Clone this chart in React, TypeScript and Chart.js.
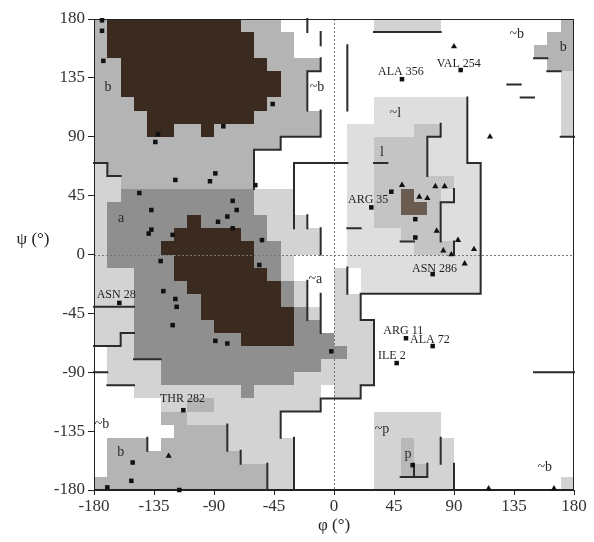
import React, { useEffect, useRef } from 'react';
import { Chart, registerables } from 'chart.js';

Chart.register(...registerables);

// Axis ticks (degrees)
const PHI_TICKS = [-180, -135, -90, -45, 0, 45, 90, 135, 180];
const PSI_TICKS = [-180, -135, -90, -45, 0, 45, 90, 135, 180];

// Region map: 36 rows (psi 180 -> -180, 10 deg each) x 36 columns (phi -180 -> 180)
// D core, A alpha allowed, B beta allowed, G generous, g/a/d left-handed region, p polyPro inner, . disallowed
const REGION_ROWS = [
  'BDDDDDDDDDDBBB.......GGGGG.........B',
  'BDDDDDDDDDDDBBB...................BB',
  'BDDDDDDDDDDDBBB..................BBB',
  'BBDDDDDDDDDDDBBBB.................BB',
  'BBDDDDDDDDDDDDBB...................G',
  'BBDDDDDDDDDDDDBB...................G',
  'BBBDDDDDDDDDDBBB.....ggggggg.......G',
  'BBBBDDDDDDDDBBBBB....ggggggg.......G',
  'BBBBDDBBDBBBBBBBB..gggggaagg.......G',
  'BBBBBBBBBBBBBB.....ggaaaaggg........',
  'BBBBBBBBBBBB.......ggaaaaggg........',
  'GBBBBBBBBBBB.......ggaaaagggg.......',
  'GGBBBBBBBBBB.......ggaaaaaagg.......',
  'GGAAAAAAAAAAGGG....ggaadaaggg.......',
  'GAAAAAAAAAAAGGG....ggaaddaggg.......',
  'GAAAAAADAAAAAGGG...ggaaaaaggg.......',
  'GAAAAADDDDDAAGGGG..ggggaaaggg.......',
  'GAAAADDDDDDDAAGGG..gggggaaagg.......',
  'GAAAAADDDDDDAAG....gggggggggg.......',
  'GGGAAADDDDDDDAG...G.ggggggggg.......',
  'GGGAAAADDDDDDDAG..G.ggggggggg.......',
  'GGGAAAAADDDDDDAG..GG................',
  'GGGAAAAADDDDDDDAG.GG................',
  'GGGAAAAAADDDDDDAA.GGG...............',
  'GGGAAAAAAAADDDDAAAGGG...............',
  '.GGAAAAAAAAAAAAAAAAGG...............',
  '.GGGGAAAAAAAAAAAAGGGG...............',
  '.GGGGAAAAAAAAAAGGGGGG...............',
  '...GGGGGGGGAGGGGG.GG................',
  '.....GGBBGGGGGGGG...................',
  '.....BBGGGGGGG.......GGGGG..........',
  '......BBBBGGGG.......GGGGG..........',
  '.BBB.BBBBBGGGGG......GGpGGG.........',
  '.BBBBBBBBBBGGGG......GGpGGG.........',
  '.BBBBBBBBBBBBGG......GGppGG.........',
  'BBBBBBBBBBBBBGG......GGGGGG........G',
];

const REGION_COLORS: Record<string, string> = {
  D: '#3a2a20',
  A: '#8f8f8f',
  B: '#b4b4b4',
  G: '#d3d3d3',
  g: '#dedede',
  a: '#c4c4c4',
  d: '#6b5c52',
  p: '#b8b8b8',
};

// Boundary segments [phi1, psi1, phi2, psi2]
const BOUNDARY_SEGMENTS: number[][] = [
  [-20, 180, -20, 170], [-10, 170, -10, 160],
  [-10, 150, -10, 140], [-20, 140, -10, 140], [-20, 140, -20, 110],
  [-10, 110, -10, 90], [-40, 90, -10, 90], [-40, 90, -40, 80], [-60, 80, -40, 80], [-60, 80, -60, 50],
  [-30, 70, 0, 70], [-30, 70, -30, 20],
  [-180, 70, -170, 70], [-170, 70, -170, 60], [-170, 60, -160, 60],
  [-20, 30, -20, 20], [-10, 20, -10, 0], [-20, -20, -20, -50], [-10, -30, -10, -60],
  [-180, -40, -150, -40], [-160, -60, -150, -60], [-180, -70, -160, -70], [-160, -60, -160, -70],
  [-150, -80, -130, -80], [-170, -100, -150, -100], [-180, -90, -170, -90],
  [-140, -140, -140, -150], [-80, -130, -80, -150], [-70, -150, -70, -160], [-50, -160, -50, -180],
  [-40, -120, -40, -140], [-40, -120, -10, -120], [-10, -110, -10, -120], [-10, -110, 0, -110],
  [-30, -140, -30, -180],
  [20, -30, 110, -30], [110, 70, 110, -30], [100, 120, 100, 70], [100, 70, 110, 70],
  [20, -30, 20, -50], [20, -50, 30, -50], [30, -50, 30, -100], [20, -100, 30, -100],
  [20, -100, 20, -110], [0, -110, 20, -110], [10, -10, 10, -30],
  [80, -140, 80, -160], [90, -160, 90, -180], [60, -160, 60, -170], [50, -170, 70, -170], [70, -160, 70, -170],
  [150, -90, 180, -90],
  [130, 130, 140, 130], [140, 120, 150, 120], [150, 150, 160, 150], [160, 140, 170, 140], [170, 90, 180, 90],
  [10, 160, 10, 110], [0, 70, 10, 70], [30, 170, 80, 170],
  [80, 100, 80, 90], [70, 90, 80, 90], [70, 90, 70, 60], [90, 50, 90, 40], [80, 40, 90, 40], [80, 40, 80, 10],
  [90, 10, 90, 0], [50, 10, 60, 10], [10, 20, 20, 20], [30, 70, 40, 70],
];

// Non-glycine residues (squares)
const RES_PHI = [-174, -174, -173, -46, -83, -132, -134, -119, -89, -93, -59, -146, -76, -137, -73, -80, -87, -76, -137, -139, -121, -54,
  -130, -56, -128, -161, -119, -118, -121, -89, -80, -2, -113, -151, -152, -170, -116,
  95, 51, 43, 28, 61, 61, 74, 54, 74, 47, 59];
const RES_PSI = [179, 171, 148, 115, 98, 92, 86, 57, 62, 56, 53, 47, 41, 34, 34, 29, 25, 20, 19, 16, 15, 11,
  -5, -8, -28, -37, -34, -40, -54, -66, -68, -74, -119, -159, -173, -178, -180,
  141, 134, 48, 36, 27, 13, -15, -64, -70, -83, -161];

// Glycine residues (triangles)
const GLY_PHI = [-124, 90, 117, 51, 64, 70, 76, 83, 77, 93, 82, 88, 105, 98, 116, 165];
const GLY_PSI = [-154, 159, 90, 53, 44, 43, 52, 52, 18, 11, 3, 0, 4, -7, -179, -179];

// Residue labels
const LABEL_TEXT = ['ALA 356', 'VAL 254', 'ARG 35', 'ASN 286', 'ARG 11', 'ALA 72', 'ILE 2', 'THR 282', 'ASN 28'];
const LABEL_PHI = [33, 77, 10.5, 58.5, 37, 57, 33, -130.5, -178];
const LABEL_PSI = [139.5, 146, 42, -11, -58.5, -65, -77.6, -110.5, -31];

// Region labels
const REGION_LABEL_TEXT = ['b', '~b', 'a', '~a', '~l', 'l', '~b', 'b', '~p', 'p', '~b', '~b', 'b'];
const REGION_LABEL_PHI = [-169.5, -12.75, -159.75, -14, 46, 36, -174, -160, 36, 55.5, 158, 137, 172];
const REGION_LABEL_PSI = [128, 128, 28, -19, 108, 78, -130, -151, -134, -153, -163, 168, 158];

const SERIF = "'Liberation Serif', 'DejaVu Serif', 'Times New Roman', serif";

const rama = {
  id: 'rama',
  beforeDatasetsDraw(chart: any) {
    const { ctx, chartArea, scales } = chart;
    const xs = scales.x;
    const ys = scales.y;
    ctx.save();
    REGION_ROWS.forEach((row: string, r: number) => {
      const psiTop = 180 - r * 10;
      for (let c = 0; c < row.length; c++) {
        const color = REGION_COLORS[row[c]];
        if (!color) continue;
        const phiL = -180 + c * 10;
        const x0 = Math.round(xs.getPixelForValue(phiL));
        const x1 = Math.round(xs.getPixelForValue(phiL + 10));
        const y0 = Math.round(ys.getPixelForValue(psiTop));
        const y1 = Math.round(ys.getPixelForValue(psiTop - 10));
        ctx.fillStyle = color;
        ctx.fillRect(x0, y0, x1 - x0, y1 - y0);
      }
    });
    // zero lines
    ctx.strokeStyle = '#777';
    ctx.lineWidth = 1;
    ctx.setLineDash([2, 2]);
    const x0 = Math.round(xs.getPixelForValue(0)) + 0.5;
    const y0 = Math.round(ys.getPixelForValue(0)) + 0.5;
    ctx.beginPath();
    ctx.moveTo(x0, chartArea.top);
    ctx.lineTo(x0, chartArea.bottom);
    ctx.moveTo(chartArea.left, y0);
    ctx.lineTo(chartArea.right, y0);
    ctx.stroke();
    ctx.setLineDash([]);
    // boundaries
    ctx.strokeStyle = '#2b2b2b';
    ctx.lineWidth = 2;
    ctx.lineCap = 'square';
    ctx.beginPath();
    BOUNDARY_SEGMENTS.forEach((s) => {
      ctx.moveTo(xs.getPixelForValue(s[0]), ys.getPixelForValue(s[1]));
      ctx.lineTo(xs.getPixelForValue(s[2]), ys.getPixelForValue(s[3]));
    });
    ctx.stroke();
    // frame
    ctx.strokeStyle = '#222';
    ctx.lineWidth = 1;
    ctx.strokeRect(chartArea.left + 0.5, chartArea.top + 0.5, chartArea.right - chartArea.left - 1, chartArea.bottom - chartArea.top - 1);
    ctx.restore();
  },
  afterDatasetsDraw(chart: any) {
    const { ctx, scales } = chart;
    const xs = scales.x;
    const ys = scales.y;
    ctx.save();
    ctx.fillStyle = '#1e1e1e';
    ctx.font = `12px ${SERIF}`;
    ctx.textAlign = 'left';
    ctx.textBaseline = 'middle';
    LABEL_TEXT.forEach((t, i) => {
      ctx.fillText(t, xs.getPixelForValue(LABEL_PHI[i]), ys.getPixelForValue(LABEL_PSI[i]));
    });
    ctx.font = `14px ${SERIF}`;
    ctx.textAlign = 'center';
    ctx.fillStyle = '#2a2a2a';
    REGION_LABEL_TEXT.forEach((t, i) => {
      ctx.fillText(t, xs.getPixelForValue(REGION_LABEL_PHI[i]), ys.getPixelForValue(REGION_LABEL_PSI[i]));
    });
    // y-axis title (horizontal)
    ctx.font = `17px ${SERIF}`;
    ctx.fillStyle = '#222';
    ctx.fillText('ψ (°)', 33, 240);
    ctx.restore();
  },
};

export default function App() {
  const ref = useRef<HTMLCanvasElement>(null);
  useEffect(() => {
    if (!ref.current) return;
    const tickFont = { family: SERIF, size: 17 };
    const chart = new Chart(ref.current, {
      type: 'scatter',
      data: {
        datasets: [
          {
            label: 'Residues',
            data: RES_PHI.map((p, i) => ({ x: p, y: RES_PSI[i] })),
            pointStyle: 'rect',
            pointRadius: 3.2,
            backgroundColor: '#111',
            borderColor: '#111',
            borderWidth: 0,
            clip: false,
          } as any,
          {
            label: 'Glycine',
            data: GLY_PHI.map((p, i) => ({ x: p, y: GLY_PSI[i] })),
            pointStyle: 'triangle',
            pointRadius: 3.6,
            backgroundColor: '#111',
            borderColor: '#111',
            borderWidth: 0,
            clip: false,
          } as any,
        ],
      },
      options: {
        animation: false,
        responsive: false,
        maintainAspectRatio: false,
        layout: { padding: { left: 34, right: 20, top: 19, bottom: 0 } },
        plugins: { legend: { display: false }, tooltip: { enabled: false } },
        scales: {
          x: {
            type: 'linear',
            min: -180,
            max: 180,
            afterBuildTicks: (s: any) => { s.ticks = PHI_TICKS.map((v) => ({ value: v })); },
            afterFit: (s: any) => { s.height = 52; },
            ticks: { font: tickFont, color: '#333', padding: 1, maxRotation: 0, autoSkip: false },
            grid: { display: true, drawOnChartArea: false, drawTicks: true, tickLength: 5, color: '#222' },
            border: { display: true, color: '#222' },
            title: { display: true, text: 'φ (°)', font: { family: SERIF, size: 17 }, color: '#222', padding: { top: 0, bottom: 6 } },
          },
          y: {
            type: 'linear',
            min: -180,
            max: 180,
            afterBuildTicks: (s: any) => { s.ticks = PSI_TICKS.map((v) => ({ value: v })); },
            afterFit: (s: any) => { s.width = 60; },
            ticks: { font: tickFont, color: '#333', padding: 3, autoSkip: false },
            grid: { display: true, drawOnChartArea: false, drawTicks: true, tickLength: 6, color: '#222' },
            border: { display: true, color: '#222' },
          },
        },
      },
      plugins: [rama],
    });
    return () => chart.destroy();
  }, []);
  return (
    <div style={{ position: 'fixed', left: 0, top: 0, width: 594, height: 542, background: '#fff' }}>
      <canvas ref={ref} width={594} height={542} style={{ display: 'block' }} />
    </div>
  );
}
